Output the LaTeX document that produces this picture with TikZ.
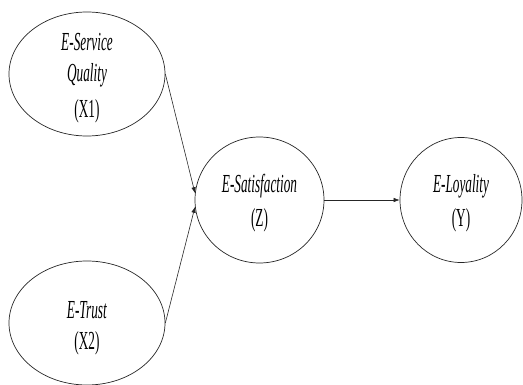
\documentclass[tikz,border=0pt]{standalone}
\usepackage{fontspec}
\setmainfont{Liberation Serif}
\newfontfamily\condfont[FakeStretch=0.51]{Liberation Serif}
\usetikzlibrary{shapes.geometric,arrows.meta}
\begin{document}
\begin{tikzpicture}[x=1pt,y=-1pt,
  lv/.style={draw=black!85, line width=0.7pt, ellipse, inner sep=0pt},
  lvtext/.style={inner sep=0pt, align=center, font=\condfont\fontsize{26}{#1}\selectfont},
  lvtext/.default=34,
  conn/.style={draw=black!85, line width=0.6pt, -{Latex[length=6pt,width=4.5pt]}}]
\useasboundingbox (0,0) rectangle (523,385);
\node[lv, minimum width=156pt, minimum height=124pt] (x1) at (87,74) {};
\node[lvtext=31] (x1t) at (87,78) {\textit{E-Service}\\\textit{Quality}\\[5pt](X1)};
\node[lv, minimum width=156pt, minimum height=124pt] (x2) at (87,323) {};
\node[lvtext=31] (x2t) at (87,328) {\textit{E-Trust}\\(X2)};
\node[lv, minimum width=129pt, minimum height=126pt] (z) at (259.5,200) {};
\node[lvtext] (zt) at (259.5,203) {\textit{E-Satisfaction}\\(Z)};
\node[lv, minimum width=122pt, minimum height=125pt] (y) at (461,200) {};
\node[lvtext] (yt) at (461,203) {\textit{E-Loyality}\\(Y)};
\draw[conn] (x1.east) -- (z.174);
\draw[conn] (x2.east) -- (z.186);
\draw[conn] (z.east) -- (y.west);
\end{tikzpicture}
\end{document}
